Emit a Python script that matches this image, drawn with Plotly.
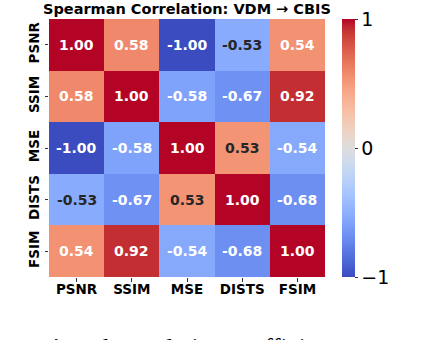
import plotly.graph_objects as go

metrics = ["PSNR", "SSIM", "MSE", "DISTS", "FSIM"]
corr = [
    [1.00, 0.58, -1.00, -0.53, 0.54],
    [0.58, 1.00, -0.58, -0.67, 0.92],
    [-1.00, -0.58, 1.00, 0.53, -0.54],
    [-0.53, -0.67, 0.53, 1.00, -0.68],
    [0.54, 0.92, -0.54, -0.68, 1.00],
]
cbar_ticks = [-1, 0, 1]
cbar_labels = ["\u22121", "0", "1"]

# matplotlib "coolwarm" sampled at 33 points
coolwarm_rgb = [
    (59, 76, 192), (68, 90, 204), (77, 104, 215), (87, 117, 225), (98, 130, 234),
    (108, 142, 241), (119, 154, 247), (130, 165, 251), (141, 176, 254), (152, 185, 255),
    (163, 194, 255), (174, 201, 253), (184, 208, 249), (194, 213, 244), (204, 217, 238),
    (213, 219, 230), (221, 221, 221), (229, 216, 209), (236, 211, 197), (241, 204, 184),
    (245, 196, 172), (247, 187, 160), (247, 177, 148), (247, 166, 137), (244, 154, 123),
    (241, 141, 111), (236, 127, 99), (229, 112, 88), (222, 96, 77), (213, 80, 66),
    (203, 62, 56), (192, 40, 47), (180, 4, 38),
]
colorscale = [[i / 32, "rgb(%d,%d,%d)" % c] for i, c in enumerate(coolwarm_rgb)]

fig = go.Figure()
fig.add_trace(go.Heatmap(
    z=corr, x=metrics, y=metrics,
    zmin=-1, zmax=1,
    colorscale=colorscale,
    xgap=0, ygap=0,
    colorbar=dict(
        x=1.0616, xanchor="left", xpad=0,
        y=0.5, yanchor="middle", len=1, lenmode="fraction", ypad=0,
        thickness=13, outlinewidth=0,
        tickvals=cbar_ticks, ticktext=cbar_labels,
        ticks="outside", ticklen=3, tickwidth=1, tickcolor="#333",
        tickfont=dict(family="DejaVu Sans", size=19, color="black"),
    ),
    hoverinfo="skip",
))

# cell labels: dark text on light cells, white on saturated ones
annotations = []
for i, row in enumerate(corr):
    for j, v in enumerate(row):
        col = "#262626" if abs(v) <= 0.53 else "white"
        annotations.append(dict(
            x=metrics[j], y=metrics[i], xref="x", yref="y",
            text="%.2f" % v, showarrow=False,
            font=dict(family="DejaVu Sans", size=14, color=col, weight="bold"),
        ))

annotations.append(dict(
    x=0.5, y=1.0, xref="paper", yref="paper", xanchor="center", yanchor="bottom",
    yshift=0, text="<b>Spearman Correlation: VDM \u2192 CBIS</b>", showarrow=False,
    font=dict(family="DejaVu Sans", size=14.5, color="black"),
))

# clipped caption line from the page below the figure
annotations.append(dict(
    x=0.002, y=-0.213, xref="paper", yref="paper", xanchor="left", yanchor="top",
    text="\u2019, and correlation coefficients", showarrow=False,
    font=dict(family="Liberation Serif", size=25, color="black"),
))

fig.update_layout(
    width=434, height=340,
    margin=dict(l=49, r=109, t=19, b=63, autoexpand=False),
    paper_bgcolor="white", plot_bgcolor="white",
    annotations=annotations,
    xaxis=dict(
        automargin=False,
        tickfont=dict(family="DejaVu Sans", size=13.5, color="black", weight="bold"),
        ticks="outside", ticklen=3.5, tickwidth=1, tickcolor="#333",
        ticklabelstandoff=-4,
        showgrid=False, zeroline=False, showline=False,
    ),
    yaxis=dict(
        automargin=False,
        autorange="reversed", tickangle=-90,
        tickfont=dict(family="DejaVu Sans", size=13.5, color="black", weight="bold"),
        ticks="outside", ticklen=3.5, tickwidth=1, tickcolor="#333",
        showgrid=False, zeroline=False, showline=False,
    ),
)

# drop the default 8px body margin so the figure sits at the window corner
fig.write_html("out.html", config={"displayModeBar": False},
               post_script="document.body.style.margin = '0';")
